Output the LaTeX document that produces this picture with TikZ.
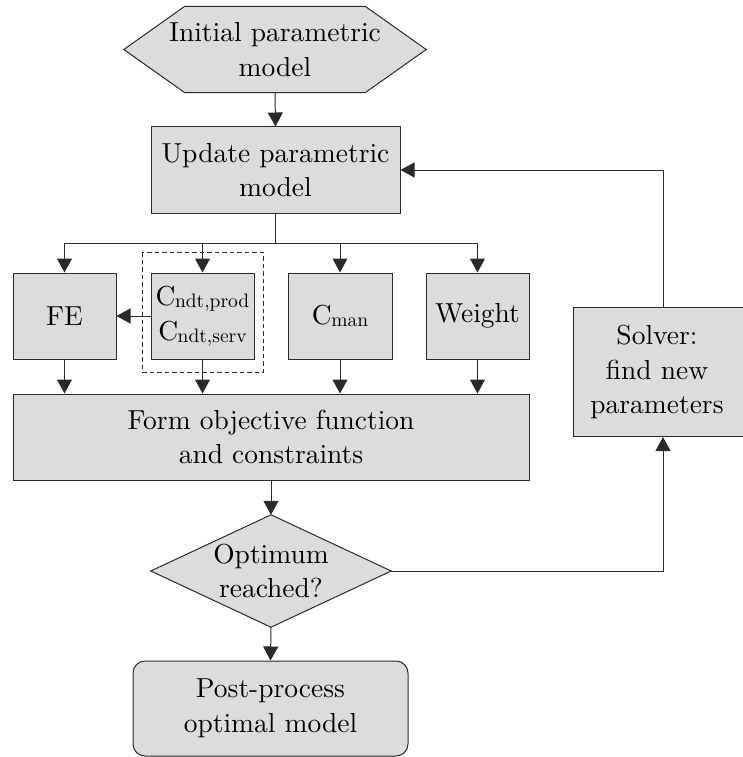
\documentclass[tikz,border=0pt]{standalone}
\usepackage{fontspec}
\setmainfont{lmroman10-regular.otf}
\usetikzlibrary{arrows.meta}
\definecolor{boxfill}{HTML}{DCDCDC}
\definecolor{boxline}{HTML}{2A2A2A}
\newcommand{\Csub}[1]{C\kern-0.5pt\raisebox{-2pt}{\fontsize{19.5}{19.5}\selectfont #1}}
\begin{document}
\begin{tikzpicture}[x=1pt,y=-1pt,
  every node/.style={font=\fontsize{27.5}{34.5}\selectfont, align=center, inner sep=0pt},
  box/.style={draw=boxline, fill=boxfill, line width=1pt},
  arr/.style={-{Triangle[width=15pt,length=14pt]}, line width=1pt, draw=boxline},
  ln/.style={line width=1pt, draw=boxline}]
\useasboundingbox (0,0) rectangle (743,757);
% hexagon
\node[minimum width=302pt, minimum height=86pt] (init) at (275,49.5) {};
\filldraw[box] (init.west) -- ([xshift=61pt]init.north west) -- ([xshift=-61pt]init.north east) -- (init.east) -- ([xshift=-61pt]init.south east) -- ([xshift=61pt]init.south west) -- cycle;
\node at (init.center) {Initial parametric\\model};
% boxes
\node[box, minimum width=249pt, minimum height=86pt] (upd) at (275.5,170) {Update parametric\\model};
\draw[ln, dash pattern=on 4.5pt off 3pt] (142,252) rectangle (263,372);
\node[box, minimum width=103pt, minimum height=86pt] (fe) at (64.5,316) {FE};
\node[box, minimum width=103pt, minimum height=86pt] (cndt) at (202.5,316) {\Csub{ndt,prod}\\[1pt]\Csub{ndt,serv}};
\node[box, minimum width=104pt, minimum height=86pt] (cman) at (340,316) {\Csub{man}};
\node[box, minimum width=103pt, minimum height=86pt] (wgt) at (477.5,316) {Weight};
\node[box, minimum width=516pt, minimum height=86pt] (form) at (271,437) {Form objective function\\and constraints};
% diamond
\node[minimum width=240pt, minimum height=112pt] (dec) at (271,571) {};
\filldraw[box] (dec.north) -- (dec.east) -- (dec.south) -- (dec.west) -- cycle;
\node at (dec.center) {Optimum\\reached?};
\node[box, rounded corners=12pt, minimum width=275pt, minimum height=95pt] (post) at (270.5,708.5) {Post-process\\optimal model};
\node[box, minimum width=180pt, minimum height=129pt] (solv) at (663,372) {};
\node at (657,372) {Solver:\\find new\\parameters};
% connectors
\draw[arr] (init.south) -- (upd.north);
\draw[ln] (upd.south) -- (upd.south |- 0,243) coordinate (br);
\draw[arr] (br) -| (fe.north);
\draw[arr] (br) -| (cndt.north);
\draw[arr] (br) -| (cman.north);
\draw[arr] (br) -| (wgt.north);
\draw[arr] (cndt.west) -- (fe.east);
\draw[arr] (fe.south) -- (fe.south |- form.north);
\draw[arr] (cndt.south) -- (cndt.south |- form.north);
\draw[arr] (cman.south) -- (cman.south |- form.north);
\draw[arr] (wgt.south) -- (wgt.south |- form.north);
\draw[arr] (form.south) -- (dec.north);
\draw[arr] (dec.south) -- (post.north);
\draw[arr] (dec.east) -| (solv.south);
\draw[arr] (solv.north) |- (upd.east);
\end{tikzpicture}
\end{document}
